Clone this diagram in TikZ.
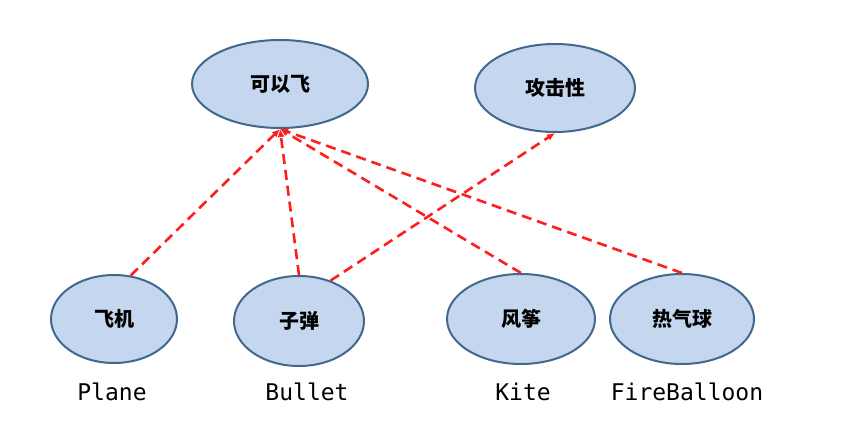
\documentclass[tikz,border=0pt]{standalone}
\usepackage{fontspec}
\newfontfamily\cjk{Noto Sans CJK SC}
\setmonofont{DejaVu Sans Mono}
\usetikzlibrary{arrows.meta,shapes.geometric}

\definecolor{ellfill}{RGB}{197,215,238}
\definecolor{ellline}{RGB}{65,104,143}
\definecolor{arcred}{RGB}{255,30,30}

\tikzset{
    ability/.style={ellipse,draw=ellline,fill=ellfill,line width=2pt,inner sep=0pt,
        font=\cjk\bfseries\fontsize{20}{24}\selectfont},
    classname/.style={font=\ttfamily\fontsize{23}{27}\selectfont},
    impl/.style={-{Latex[length=8pt,width=7pt]},arcred,line width=2.6pt,
        dash pattern=on 10pt off 6pt}
}

\begin{document}
\begin{tikzpicture}[x=1pt,y=-1pt]
        \useasboundingbox (0,0) rectangle (845,427);

        % Interfaces
        \node[ability,minimum width=176pt,minimum height=88pt] (fly) at (280,84) {可以飞};
        \node[ability,minimum width=160pt,minimum height=88pt] (attack) at (555,88) {攻击性};

        % Classes
        \node[ability,minimum width=126pt,minimum height=88pt] (plane) at (114,319) {飞机};
        \node[ability,minimum width=130pt,minimum height=90pt] (bullet) at (299,321) {子弹};
        \node[ability,minimum width=148pt,minimum height=90pt] (kite) at (521,319) {风筝};
        \node[ability,minimum width=144pt,minimum height=90pt] (balloon) at (682,319) {热气球};

        % Class names
        \node[classname] (planename) at (112,392) {Plane};
        \node[classname] (bulletname) at (307,392) {Bullet};
        \node[classname] (kitename) at (523,392) {Kite};
        \node[classname] (balloonname) at (687,392) {FireBalloon};

        % Arcs
        \draw[impl] (plane.69) -- (fly.south);
        \draw[impl] (bullet.north) -- (fly.south);
        \draw[impl] (kite.north) -- (fly.south);
        \draw[impl] (balloon.north) -- (fly.south);
        \draw[impl] (bullet.52) -- (attack.south);
    \end{tikzpicture}
\end{document}
